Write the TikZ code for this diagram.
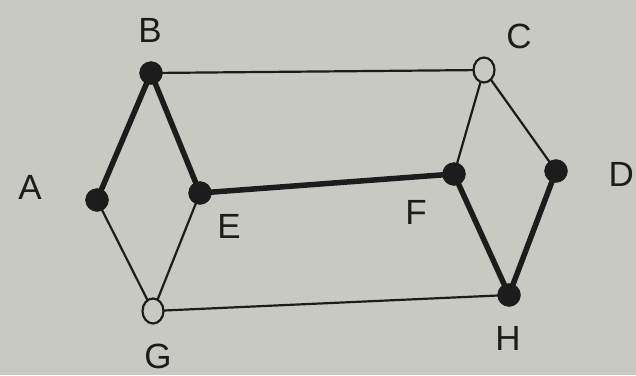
\documentclass[tikz,border=0pt]{standalone}
\usepackage{fontspec}
\setmainfont{Liberation Sans}
\usetikzlibrary{shapes.geometric}
\definecolor{paper}{RGB}{201,201,196}
\definecolor{ink}{RGB}{28,28,28}
\begin{document}
\begin{tikzpicture}[x=1pt,y=-1pt,
  full/.style={circle,fill=ink,draw=ink,inner sep=0pt,minimum size=23pt},
  hollow/.style={ellipse,fill=paper,draw=ink,line width=2.2pt,inner sep=0pt,minimum width=21pt,minimum height=25pt},
  thin/.style={draw=ink,line width=2.2pt},
  heavy/.style={draw=ink,line width=5.5pt},
  lbl/.style={text=ink,font=\fontsize{35}{35}\selectfont,inner sep=0pt}]
\fill[paper] (0,0) rectangle (636,375);
\useasboundingbox (0,0) rectangle (636,375);
\path
  (151,73)  coordinate (pB)
  (97,200)  coordinate (pA)
  (200,193) coordinate (pE)
  (153,311) coordinate (pG)
  (484,70)  coordinate (pC)
  (454,174) coordinate (pF)
  (556,171) coordinate (pD)
  (509,295) coordinate (pH);
% edges
\draw[thin] (pB) -- (pC);
\draw[thin] (pA) -- (pG);
\draw[thin] (pE) -- (pG);
\draw[thin] (pC) -- (pF);
\draw[thin] (pC) -- (pD);
\draw[thin] (pG) -- (pH);
\draw[heavy] (pB) -- (pA);
\draw[heavy] (pB) -- (pE);
\draw[heavy] (pE) -- (pF);
\draw[heavy] (pF) -- (pH);
\draw[heavy] (pD) -- (pH);
% vertices
\node[full] (B) at (pB) {};
\node[full] (A) at (pA) {};
\node[full] (E) at (pE) {};
\node[full] (F) at (pF) {};
\node[full] (D) at (pD) {};
\node[full] (H) at (pH) {};
\node[hollow] (C) at (pC) {};
\node[hollow] (G) at (pG) {};
% labels
\node[lbl] (lB) at (150,30) {B};
\node[lbl] (lA) at (30,187) {A};
\node[lbl] (lE) at (229,226) {E};
\node[lbl] (lG) at (158,356) {G};
\node[lbl] (lC) at (519,36) {C};
\node[lbl] (lF) at (416,212) {F};
\node[lbl,anchor=east] (lD) at (634,174) {D};
\node[lbl] (lH) at (508,338) {H};
\end{tikzpicture}
\end{document}
